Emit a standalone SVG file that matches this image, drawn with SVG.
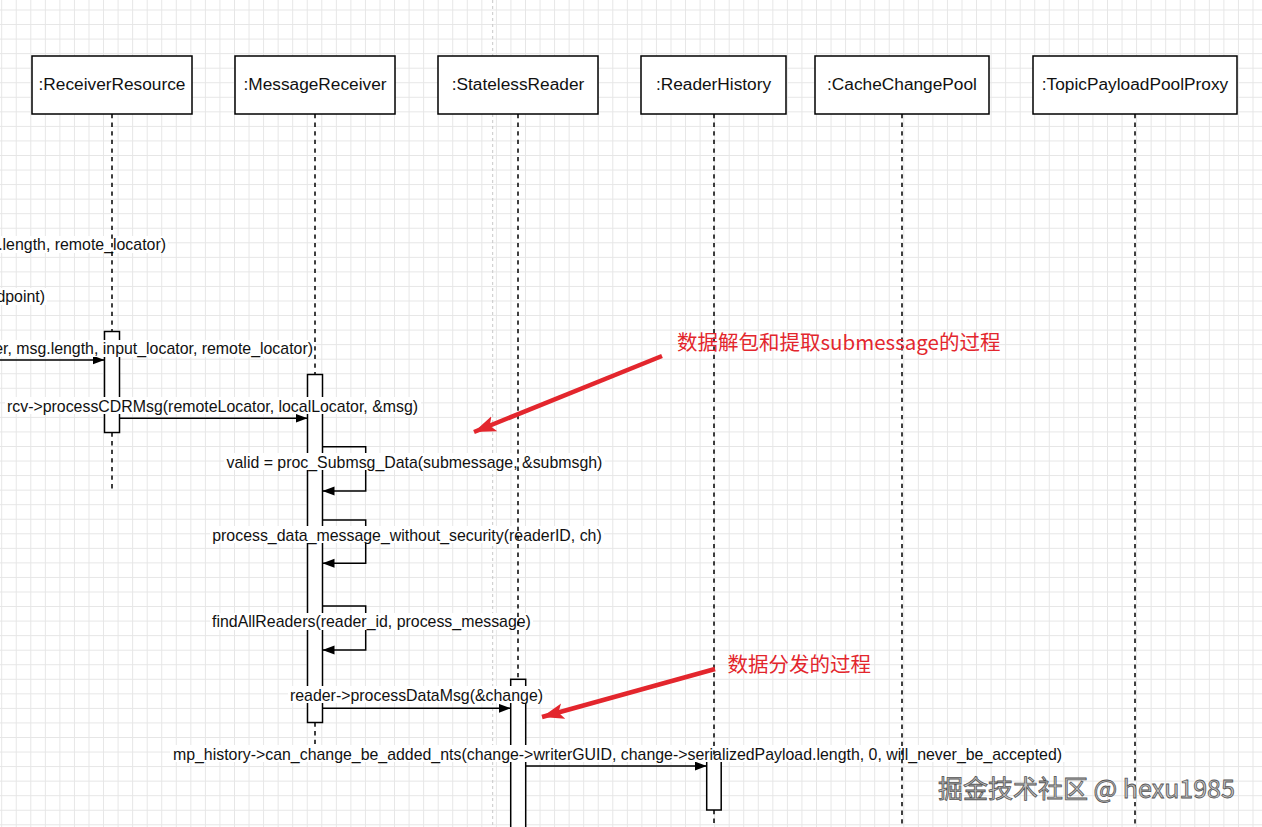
<svg xmlns="http://www.w3.org/2000/svg" width="1262" height="827" viewBox="0 0 1262 827">
<style>
.box{fill:#fff;stroke:#000;stroke-width:1.5}
.act{fill:#fff;stroke:#000;stroke-width:1.5}
.hdr{font-family:"Liberation Sans",Arial,sans-serif;font-size:17.3px;fill:#111;text-anchor:middle}
.msg{font-family:"Liberation Sans",Arial,sans-serif;font-size:15.9px;fill:#111}
.lb{fill:#fff}
.life{stroke:#000;stroke-width:1.5;stroke-dasharray:4.3 4.3;fill:none}
.arr{stroke:#000;stroke-width:1.5;fill:none;marker-end:url(#ah)}
.red{stroke:#e3262d;stroke-width:4.5;fill:none;marker-end:url(#rh)}
.note{font-family:"Noto Sans CJK SC","Noto Sans",sans-serif;font-size:20.5px;fill:#e3262d}
</style>
<defs>
<pattern id="grid" width="14.55" height="14.55" patternUnits="userSpaceOnUse" x="1.2" y="9.5">
<path d="M0.5 0 V14.55 M0 0.5 H14.55" stroke="#e6e6e6" stroke-width="1" fill="none"/>
</pattern>
<marker id="ah" markerUnits="userSpaceOnUse" markerWidth="13" markerHeight="10" refX="12" refY="4.5" orient="auto">
<path d="M0 0 L12 4.5 L0 9 Z" fill="#000"/>
</marker>
<marker id="rh" markerUnits="userSpaceOnUse" markerWidth="24" markerHeight="18" refX="22" refY="8" orient="auto">
<path d="M0 0 L22 8 L0 16 L5 8 Z" fill="#e3262d"/>
</marker>
</defs>
<rect width="1262" height="827" fill="#fff"/>
<rect width="1262" height="827" fill="url(#grid)"/>
<line x1="492.7" y1="0" x2="492.7" y2="827" stroke="#c8c8c8" stroke-width="1" stroke-dasharray="3 3"/>

<g id="ReceiverResource">
<rect class="box" x="32" y="56" width="160" height="58"/>
<text class="hdr" x="112" y="90">:ReceiverResource</text>
</g>
<g id="MessageReceiver">
<rect class="box" x="235" y="56" width="160" height="58"/>
<text class="hdr" x="315" y="90">:MessageReceiver</text>
</g>
<g id="StatelessReader">
<rect class="box" x="438" y="56" width="160" height="58"/>
<text class="hdr" x="518" y="90">:StatelessReader</text>
</g>
<g id="ReaderHistory">
<rect class="box" x="641" y="56" width="145" height="58"/>
<text class="hdr" x="713.5" y="90">:ReaderHistory</text>
</g>
<g id="CacheChangePool">
<rect class="box" x="815" y="56" width="174" height="58"/>
<text class="hdr" x="902" y="90">:CacheChangePool</text>
</g>
<g id="TopicPayloadPoolProxy">
<rect class="box" x="1033" y="56" width="204" height="58"/>
<text class="hdr" x="1135" y="90">:TopicPayloadPoolProxy</text>
</g>

<g id="activations">
<rect class="act" x="104.5" y="331.5" width="15" height="101"/>
<rect class="act" x="307.5" y="374.5" width="15" height="348"/>
<rect class="act" x="510.7" y="679.3" width="15" height="170"/>
<rect class="act" x="706.7" y="757" width="14.5" height="53"/>
</g>

<g id="connectors">
<path class="arr" d="M-5 360 H104.5"/>
<path class="arr" d="M119.5 418.3 H307.5"/>
<path class="arr" d="M322.5 446.7 H365.7 V491 H322.5"/>
<path class="arr" d="M322.5 520 H365.7 V563.3 H322.5"/>
<path class="arr" d="M322.5 606 H365.7 V650 H322.5"/>
<path class="arr" d="M525.7 708.3 H510.7" style="display:none"/>
<path class="arr" d="M322.5 708.3 H510.7"/>
<path class="arr" d="M525.7 766 H706.7"/>
</g>

<g id="labels">
<rect class="lb" x="0" y="236" width="168" height="17"/>
<text class="msg" x="166" y="249.5" text-anchor="end">.length, remote_locator)</text>
<rect class="lb" x="0" y="288" width="47" height="17"/>
<text class="msg" x="45" y="301.5" text-anchor="end">dpoint)</text>
<rect class="lb" x="0" y="340" width="315" height="17"/>
<text class="msg" x="313" y="353.5" text-anchor="end">er, msg.length, input_locator, remote_locator)</text>
<rect class="lb" x="5" y="397" width="416" height="17"/>
<text class="msg" x="212.5" y="411.5" text-anchor="middle">rcv-&gt;processCDRMsg(remoteLocator, localLocator, &amp;msg)</text>
<rect class="lb" x="224" y="453" width="381" height="17"/>
<text class="msg" x="414.5" y="467.5" text-anchor="middle">valid = proc_Submsg_Data(submessage, &amp;submsgh)</text>
<rect class="lb" x="210" y="526" width="394" height="17"/>
<text class="msg" x="407" y="540.5" text-anchor="middle">process_data_message_without_security(readerID, ch)</text>
<rect class="lb" x="210" y="613" width="323" height="17"/>
<text class="msg" x="371.5" y="627" text-anchor="middle">findAllReaders(reader_id, process_message)</text>
<rect class="lb" x="288" y="686" width="257" height="17"/>
<text class="msg" x="416.5" y="700.5" text-anchor="middle">reader-&gt;processDataMsg(&amp;change)</text>
<rect class="lb" x="170" y="745" width="895" height="17"/>
<text class="msg" x="617.5" y="759.5" text-anchor="middle">mp_history-&gt;can_change_be_added_nts(change-&gt;writerGUID, change-&gt;serializedPayload.length, 0, will_never_be_accepted)</text>
</g>

<g id="lifelines">
<path class="life" d="M112 114 V331.5 M112 432.5 V490"/>
<path class="life" d="M315 114 V374.5 M315 722.5 V745"/>
<path class="life" d="M518 114 V679.3"/>
<path class="life" d="M714 114 V757 M714 810 V827"/>
<path class="life" d="M902 114 V827"/>
<path class="life" d="M1135 114 V827"/>
</g>

<g id="annotations">
<path class="red" d="M662 356 L474 432"/>
<text class="note" x="677" y="350">数据解包和提取submessage的过程</text>
<path class="red" d="M715 669 L542 717"/>
<text class="note" x="727.5" y="672">数据分发的过程</text>
</g>

<text x="938" y="798" font-family="'Noto Sans CJK SC','Liberation Sans',sans-serif" font-size="25" fill="#c4c4c4" stroke="#555" stroke-width="0.8">掘金技术社区 @ hexu1985</text>
</svg>
